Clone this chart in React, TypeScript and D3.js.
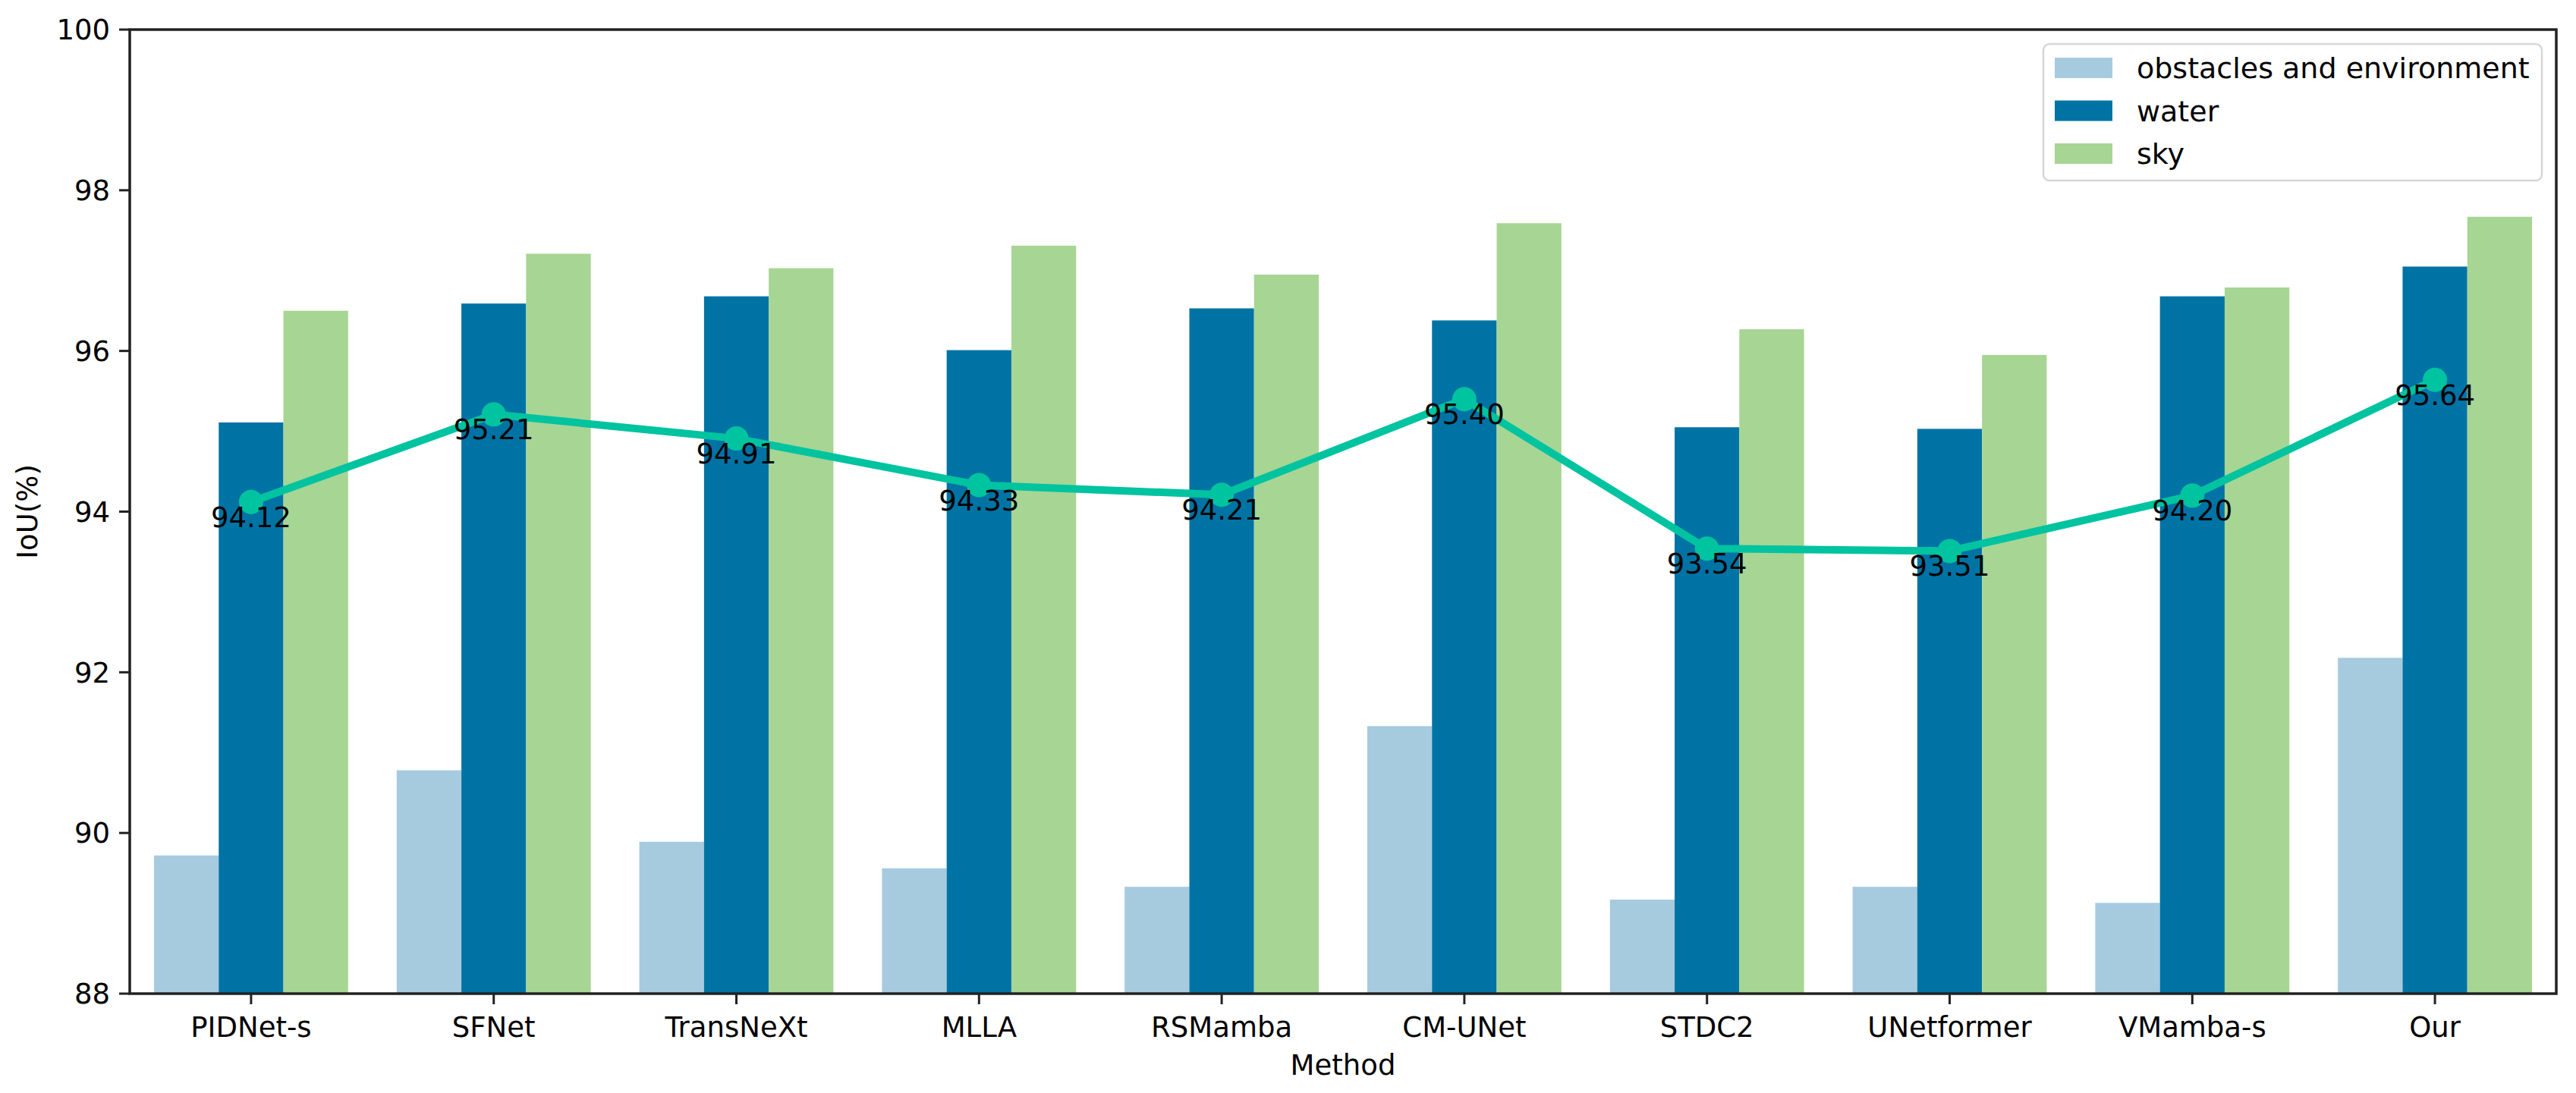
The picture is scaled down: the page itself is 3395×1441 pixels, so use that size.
import React from 'react';
import * as d3 from 'd3';

const categories = ['PIDNet-s', 'SFNet', 'TransNeXt', 'MLLA', 'RSMamba', 'CM-UNet', 'STDC2', 'UNetformer', 'VMamba-s', 'Our'];
const seriesNames = ['obstacles and environment', 'water', 'sky'];
const obstacles = [89.72, 90.78, 89.89, 89.56, 89.33, 91.33, 89.17, 89.33, 89.13, 92.18];
const water = [95.11, 96.59, 96.68, 96.01, 96.53, 96.38, 95.05, 95.03, 96.68, 97.05];
const sky = [96.50, 97.21, 97.03, 97.31, 96.95, 97.59, 96.27, 95.95, 96.79, 97.67];
const miou = [94.12, 95.21, 94.91, 94.33, 94.21, 95.40, 93.54, 93.51, 94.20, 95.64];
const yTicks = [88, 90, 92, 94, 96, 98, 100];
const colors = ['#a6cbdf', '#0073a5', '#a7d594'];
const lineColor = '#00c3a0';

const W = 3395;
const H = 1441;
const L = 171, R = 3369, T = 39, B = 1310;
const FONT = 'DejaVu Sans, sans-serif';
const FS = 37;

export default function App() {
  const series = [obstacles, water, sky];
  const x = d3.scaleBand<string>().domain(categories).range([L, R]).paddingInner(0).paddingOuter(0);
  const bw = x.bandwidth();
  const xi = d3.scaleBand<string>().domain(seriesNames).range([0.1 * bw, 0.9 * bw]).padding(0);
  const y = d3.scaleLinear().domain([88, 100]).range([B, T]);
  const cx = (c: string) => (x(c) as number) + bw / 2;
  const line = d3.line<number>().x((_, i) => cx(categories[i])).y((d) => y(d));

  const legX = 2693, legY = 58, legW = 657, legH = 180;
  const rowY = [89.5, 146, 202.5];

  return (
    <svg width={W} height={H} style={{ position: 'absolute', left: 0, top: 0, background: '#fff' }} fontFamily={FONT}>
      <rect x={0} y={0} width={W} height={H} fill="#fff" />
      {series.map((vals, si) =>
        vals.map((v, ci) => (
          <rect
            key={`b${si}-${ci}`}
            x={(x(categories[ci]) as number) + (xi(seriesNames[si]) as number)}
            y={y(v)}
            width={xi.bandwidth()}
            height={B - y(v)}
            fill={colors[si]}
          />
        ))
      )}
      <path d={line(miou) || ''} fill="none" stroke={lineColor} strokeWidth={10} strokeLinejoin="round" />
      {miou.map((v, i) => (
        <circle key={`m${i}`} cx={cx(categories[i])} cy={y(v)} r={16} fill={lineColor} />
      ))}
      {miou.map((v, i) => (
        <text key={`t${i}`} x={cx(categories[i])} y={y(v) + 33} fontSize={FS} textAnchor="middle" fill="#000">
          {v.toFixed(2)}
        </text>
      ))}
      <rect x={L} y={T} width={R - L} height={B - T} fill="none" stroke="#222" strokeWidth={3.5} />
      {yTicks.map((t) => (
        <g key={`yt${t}`}>
          <line x1={L - 14} x2={L} y1={y(t)} y2={y(t)} stroke="#222" strokeWidth={3} />
          <text x={L - 26} y={y(t)} dy="0.36em" fontSize={FS} textAnchor="end" fill="#000">
            {t}
          </text>
        </g>
      ))}
      {categories.map((c) => (
        <g key={`xt${c}`}>
          <line x1={cx(c)} x2={cx(c)} y1={B} y2={B + 14} stroke="#222" strokeWidth={3} />
          <text x={cx(c)} y={1367} fontSize={FS} textAnchor="middle" fill="#000">
            {c}
          </text>
        </g>
      ))}
      <text x={(L + R) / 2} y={1417} fontSize={FS} textAnchor="middle" fill="#000">
        Method
      </text>
      <text transform={`translate(${49},${(T + B) / 2}) rotate(-90)`} fontSize={FS} textAnchor="middle" fill="#000">
        IoU(%)
      </text>
      <rect x={legX} y={legY} width={legW} height={legH} rx={8} ry={8} fill="#fff" fillOpacity={0.8} stroke="#d6d6d6" strokeWidth={2.5} />
      {seriesNames.map((s, i) => (
        <g key={`lg${i}`}>
          <rect x={2708} y={rowY[i] - 13.5} width={76} height={27} fill={colors[i]} />
          <text x={2816} y={rowY[i]} dy="0.36em" fontSize={38} fill="#000">
            {s}
          </text>
        </g>
      ))}
    </svg>
  );
}
